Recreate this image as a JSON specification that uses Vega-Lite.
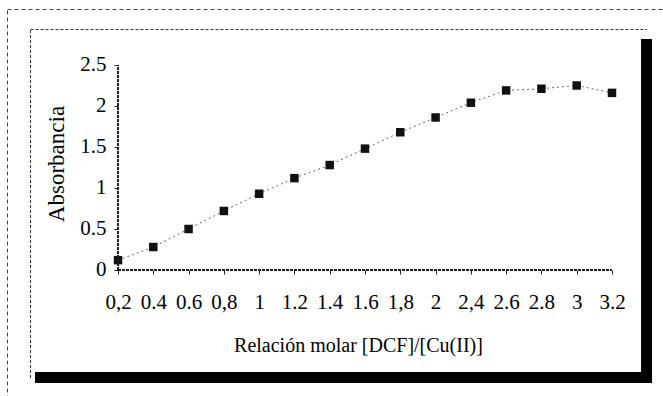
{
  "$schema": "https://vega.github.io/schema/vega-lite/v6.json",
  "width": 616.5,
  "height": 348.5,
  "autosize": {"type": "none"},
  "padding": {"left": 30, "top": 29, "right": 16.5, "bottom": 18.5},
  "background": "white",
  "view": {"stroke": "black", "strokeWidth": 11, "strokeDash": [0, 626.5, 950, 353.5], "fill": "white"},
  "config": {
    "font": "Liberation Serif",
    "style": {"guide-title": {"font": "Liberation Serif"}, "guide-label": {"font": "Liberation Serif"}},
    "axis": {"labelFont": "Liberation Serif", "titleFont": "Liberation Serif", "labelColor": "#000", "titleColor": "#000", "titleFontWeight": "normal", "grid": false}
  },
  "data": {
    "values": [
      {"ratio": "0,2", "abs": 0.12},
      {"ratio": "0.4", "abs": 0.28},
      {"ratio": "0.6", "abs": 0.50},
      {"ratio": "0,8", "abs": 0.72},
      {"ratio": "1", "abs": 0.93},
      {"ratio": "1.2", "abs": 1.12},
      {"ratio": "1.4", "abs": 1.28},
      {"ratio": "1.6", "abs": 1.48},
      {"ratio": "1,8", "abs": 1.68},
      {"ratio": "2", "abs": 1.86},
      {"ratio": "2,4", "abs": 2.04},
      {"ratio": "2.6", "abs": 2.19},
      {"ratio": "2.8", "abs": 2.21},
      {"ratio": "3", "abs": 2.25},
      {"ratio": "3.2", "abs": 2.16}
    ]
  },
  "resolve": {"scale": {"x": "independent", "y": "independent"}, "axis": {"x": "independent", "y": "independent"}},
  "layer": [
    {
      "mark": {"type": "point", "opacity": 0},
      "encoding": {
        "x": {"field": "abs", "type": "quantitative",
          "axis": {"orient": "top", "labels": false, "ticks": false, "title": null, "domain": true, "domainColor": "#333", "domainWidth": 1, "domainDash": [3, 2]}},
        "y": {"field": "abs", "type": "quantitative",
          "axis": {"orient": "left", "labels": false, "ticks": false, "title": null, "domain": true, "domainColor": "#333", "domainWidth": 1, "domainDash": [3, 2]}}
      }
    },
    {
      "mark": {"type": "point", "opacity": 0},
      "encoding": {
        "x": {"field": "abs", "type": "quantitative", "scale": {"range": [-23, 640]},
          "axis": {"orient": "top", "offset": 20, "labels": false, "ticks": false, "title": null, "domain": true, "domainColor": "#444", "domainWidth": 1, "domainDash": [4, 3]}},
        "y": {"field": "abs", "type": "quantitative", "scale": {"range": [370, -20]},
          "axis": {"orient": "left", "offset": 23, "labels": false, "ticks": false, "title": null, "domain": true, "domainColor": "#444", "domainWidth": 1, "domainDash": [4, 3]}}
      }
    },
    {
      "layer": [
        {
          "mark": {"type": "line", "color": "#666", "strokeWidth": 1, "strokeDash": [2, 3]},
          "encoding": {
            "x": {"field": "ratio", "type": "ordinal",
              "scale": {"type": "point", "domain": ["0,2","0.4","0.6","0,8","1","1.2","1.4","1.6","1,8","2","2,4","2.6","2.8","3","3.2"], "range": [88, 582], "padding": 0},
              "axis": {"orient": "bottom", "offset": -107.5, "domain": false, "tickColor": "#222", "tickSize": 4, "labelAngle": 0, "labelFontSize": 21, "labelPadding": 17, "labelBaseline": "top",
                "title": "Relación molar [DCF]/[Cu(II)]", "titleFont": "serif", "titleFontSize": 20, "titleFontWeight": "normal", "titlePadding": 23, "titleX": 328}},
            "y": {"field": "abs", "type": "quantitative",
              "scale": {"domain": [-1.311, 2.939], "nice": false, "zero": false},
              "axis": {"orient": "left", "offset": -88, "domain": false, "values": [0, 0.5, 1, 1.5, 2, 2.5], "format": ".1~f", "tickColor": "#222", "tickSize": 4, "labelFontSize": 21, "labelPadding": 8,
                "title": "Absorbancia", "titleFont": "Liberation Serif", "titleFontSize": 23, "titlePadding": 11, "titleY": 134.5}}
          }
        },
        {
          "mark": {"type": "square", "filled": true, "color": "#111", "size": 72, "opacity": 1},
          "encoding": {
            "x": {"field": "ratio", "type": "ordinal"},
            "y": {"field": "abs", "type": "quantitative"}
          }
        },
        {
          "mark": {"type": "rule", "color": "#222", "strokeWidth": 1, "strokeDash": [3, 1]},
          "encoding": {
            "x": {"datum": "0,2", "type": "ordinal"},
            "x2": {"datum": "3.2"},
            "y": {"datum": 0, "type": "quantitative"}
          }
        },
        {
          "mark": {"type": "rule", "color": "#222", "strokeWidth": 1, "strokeDash": [3, 1]},
          "encoding": {
            "x": {"datum": "0,2", "type": "ordinal"},
            "y": {"datum": 0, "type": "quantitative"},
            "y2": {"datum": 2.5}
          }
        }
      ]
    }
  ]
}
